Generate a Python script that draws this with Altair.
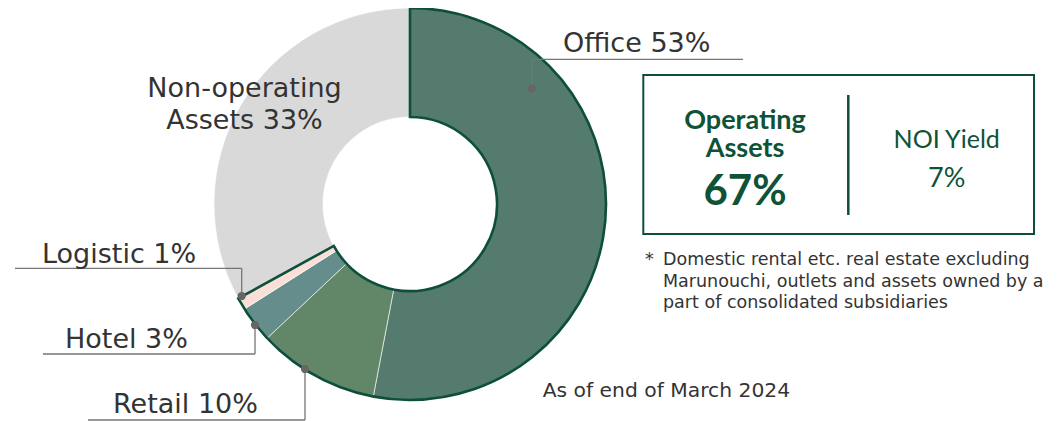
import altair as alt
import pandas as pd

# ---- data ----
categories = ["Office", "Retail", "Hotel", "Logistic", "Non-operating Assets"]
shares = [53, 10, 3, 1, 33]
colors = ["#557B6F", "#628768", "#658D8B", "#FADFD8", "#D9D9D9"]
group_names = ["Operating", "Non-operating"]
group_shares = [67, 33]
label_office = "Office 53%"
label_retail = "Retail 10%"
label_hotel = "Hotel 3%"
label_logistic = "Logistic 1%"
label_nonop = ["Non-operating", "Assets 33%"]
box_title = ["Operating", "Assets"]
box_value = "67%"
yield_title = "NOI Yield"
yield_value = "7%"
footnote = [
    "Domestic rental etc. real estate excluding",
    "Marunouchi, outlets and assets owned by a",
    "part of consolidated subsidiaries",
]
as_of = "As of end of March 2024"

W, H = 1045, 413
CX, CY = 402, 196
R_OUT, R_IN = 196, 87
DARK = "#0D4F3A"
TXT = "#333333"
BOXTXT = "#0E5238"
LINE = "#757575"
FONT = "DejaVu Sans"
BFONT = "Lato"

slices = pd.DataFrame({"category": categories, "share": shares, "idx": list(range(len(categories)))})
groups = pd.DataFrame({"group": group_names, "share": group_shares, "idx": [0, 1]})
one = pd.DataFrame({"k": [0]})

donut = alt.Chart(slices).mark_arc(
    outerRadius=R_OUT, innerRadius=R_IN, stroke="white", strokeWidth=0.6
).encode(
    theta=alt.Theta("share:Q", stack=True),
    order=alt.Order("idx:Q"),
    color=alt.Color("category:N", scale=alt.Scale(domain=categories, range=colors), legend=None),
    x=alt.value(CX),
    y=alt.value(CY),
)

outline = alt.Chart(groups).mark_arc(
    outerRadius=R_OUT, innerRadius=R_IN, fill="transparent", strokeWidth=2.6, strokeJoin="miter"
).encode(
    theta=alt.Theta("share:Q", stack=True),
    order=alt.Order("idx:Q"),
    stroke=alt.Stroke("group:N", scale=alt.Scale(domain=group_names, range=[DARK, "transparent"]), legend=None),
    x=alt.value(CX),
    y=alt.value(CY),
)


def rule(x1, x2, y1, y2, color=LINE, width=1.3):
    return alt.Chart(one).mark_rule(color=color, strokeWidth=width).encode(
        x=alt.value(x1), x2=alt.value(x2), y=alt.value(y1), y2=alt.value(y2)
    )


def dot(x, y):
    return alt.Chart(one).mark_circle(size=68, color="#666666", opacity=1).encode(
        x=alt.value(x), y=alt.value(y)
    )


def text(t, x, y, size, align="left", color=TXT, font=FONT, weight="normal"):
    return alt.Chart(one).mark_text(
        text=t, align=align, baseline="alphabetic", fontSize=size, font=font,
        fontWeight=weight, color=color
    ).encode(x=alt.value(x), y=alt.value(y))


layers = [donut, outline]

# leader lines
layers += [
    rule(523.7, 523.7, 51.3, 80.7), rule(523.7, 735, 51.3, 51.3), dot(523.7, 80.7),
    rule(7, 233.7, 260.3, 260.3), rule(233.7, 233.7, 260.3, 288), dot(233.7, 288),
    rule(35, 247, 346, 346), rule(247, 247, 317, 346), dot(247, 317),
    rule(80, 297, 412, 412), rule(297, 297, 361, 412), dot(297, 361),
]

# labels
layers += [
    text(label_office, 555, 43.7, 27),
    text(label_nonop[0], 236.5, 88.7, 27, align="center"),
    text(label_nonop[1], 236.5, 121, 27, align="center"),
    text(label_logistic, 34, 255, 27),
    text(label_hotel, 57, 340, 27),
    text(label_retail, 105, 405, 27),
]

# box
box = alt.Chart(one).mark_rect(fill="white", stroke=DARK, strokeWidth=2).encode(
    x=alt.value(635.3), x2=alt.value(1026), y=alt.value(67), y2=alt.value(226)
)
layers += [
    box,
    rule(840.3, 840.3, 87, 207, color=DARK, width=2.5),
    text(box_title[0], 737, 121.3, 27, align="center", color=BOXTXT, font=BFONT, weight="bold"),
    text(box_title[1], 737, 149.3, 27, align="center", color=BOXTXT, font=BFONT, weight="bold"),
    text(box_value, 737, 197, 42, align="center", color=BOXTXT, font=BFONT, weight="bold"),
    text(yield_title, 938.7, 139.7, 25, align="center", color=BOXTXT, font=BFONT, weight="normal"),
    text(yield_value, 938.7, 179.3, 27, align="center", color=BOXTXT, font=BFONT, weight="normal"),
]

# footnote
layers += [
    text("*", 637, 257, 17.5),
    text(footnote[0], 655, 257, 17.5),
    text(footnote[1], 655, 279, 17.5),
    text(footnote[2], 655, 300, 17.5),
    text(as_of, 534.7, 388.7, 20.3),
]

chart = alt.layer(*layers).properties(
    width=W, height=H, padding=0, autosize=alt.AutoSizeParams(type="none")
).configure_view(stroke=None)

chart.save("out.html", embed_options={"renderer": "svg", "actions": False})
